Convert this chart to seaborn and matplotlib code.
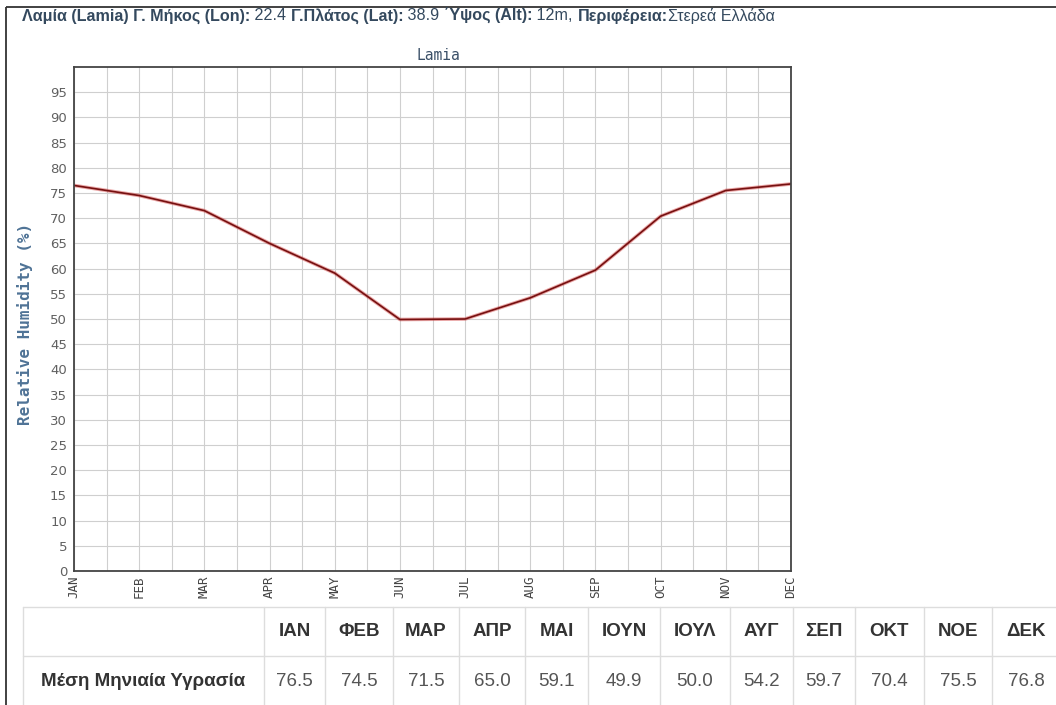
import numpy as np
import pandas as pd
import matplotlib
matplotlib.use('Agg')
import matplotlib.pyplot as plt
from matplotlib import font_manager
import seaborn as sns

# ── Data ─────────────────────────────────────────────────────
months     = ['JAN', 'FEB', 'MAR', 'APR', 'MAY', 'JUN', 'JUL', 'AUG', 'SEP', 'OCT', 'NOV', 'DEC']
months_gr  = ['ΙΑΝ', 'ΦΕΒ', 'ΜΑΡ', 'ΑΠΡ', 'ΜΑΙ', 'ΙΟΥΝ', 'ΙΟΥΛ', 'ΑΥΓ', 'ΣΕΠ', 'ΟΚΤ', 'ΝΟΕ', 'ΔΕΚ']
humidity   = [76.5, 74.5, 71.5, 65.0, 59.1, 49.9, 50.0, 54.2, 59.7, 70.4, 75.5, 76.8]
row_label  = 'Μέση Μηνιαία Υγρασία'
station    = 'Lamia'
header_parts = [('Λαμία (Lamia) Γ. Μήκος (Lon):', 'bold'), (' 22.4 ', 'normal'),
                ('Γ.Πλάτος (Lat):', 'bold'), (' 38.9 ', 'normal'),
                ('΄Υψος (Alt):', 'bold'), (' 12m, ', 'normal'),
                ('Περιφέρεια:', 'bold'), ('Στερεά Ελλάδα', 'normal')]

df = pd.DataFrame({'m': np.arange(len(months)), 'rh': humidity})

# ── Style ────────────────────────────────────────────────────
sns.set_style('white')
installed = {f.name for f in font_manager.fontManager.ttflist}
NARROW = ['Liberation Sans Narrow'] if 'Liberation Sans Narrow' in installed else ['Liberation Sans']
NARROW = NARROW + ['DejaVu Sans']
plt.rcParams['font.family'] = ['DejaVu Sans']

W, H = 1056, 705
fig = plt.figure(figsize=(W / 100, H / 100), dpi=100, facecolor='white')

# overlay in pixel coordinates for page furniture (border, header, table)
ov = fig.add_axes([0, 0, 1, 1], zorder=0)
ov.set_xlim(0, W); ov.set_ylim(H, 0); ov.axis('off')

# chart axes
L, R, T, B = 74, 791, 67, 571
ax = fig.add_axes([L / W, (H - B) / H, (R - L) / W, (B - T) / H], zorder=2)
ax.set_facecolor('white')

sns.lineplot(data=df, x='m', y='rh', ax=ax, color='#d23c3c', lw=2.6, alpha=0.45)
sns.lineplot(data=df, x='m', y='rh', ax=ax, color='#761010', lw=1.2)

ax.set_xlim(0, 11); ax.set_ylim(0, 100)
ax.set_xticks(np.arange(12))
ax.set_xticks(np.arange(0, 11, 0.5), minor=True)
ax.set_xticklabels(months, rotation=90, fontsize=9, color='#444444', family='DejaVu Sans Mono')
ax.set_yticks(np.arange(0, 100, 5))
ax.set_yticks([], minor=True)
ax.tick_params(axis='y', length=0, pad=5, labelsize=9.5, labelcolor='#606060')
ax.tick_params(axis='x', which='both', length=0, pad=3)
ax.grid(which='both', color='#cfcfcf', lw=0.8)
ax.set_axisbelow(True)
for s in ax.spines.values():
    s.set_color('#444444'); s.set_linewidth(1.3)
ax.set_xlabel('')
ax.set_ylabel('Relative Humidity (%)', family='DejaVu Sans Mono', fontweight='bold',
              fontsize=11.5, color='#4f7396')
ax.yaxis.set_label_coords(-0.057, 0.49)
ax.set_title(station, family='DejaVu Sans Mono', fontsize=10.5, color='#3b5068', pad=5, x=0.508)

# ── Page border ──────────────────────────────────────────────
ov.plot([6, 6], [7, H], color='#333333', lw=1.3, solid_capstyle='butt')
ov.plot([6, W], [7, 7], color='#333333', lw=1.3, solid_capstyle='butt')

# ── Header line (bold labels, normal values) ─────────────────
fig.canvas.draw()
rend = fig.canvas.get_renderer()
x = 22
for txt, wt in header_parts:
    t = ov.text(x, 16, txt, ha='left', va='center', fontsize=11.6, fontweight=wt,
                color='#34495e', family=NARROW)
    bb = t.get_window_extent(renderer=rend)
    x += bb.width

# ── Table ────────────────────────────────────────────────────
seps = [23, 264, 325, 393, 459, 525, 588, 660, 730, 793, 855, 924, 992, 1060]
row_top, row_mid, row_bot = 607, 656, 710
gc = '#dddddd'
ov.plot([seps[0], W], [row_top, row_top], color=gc, lw=1)
ov.plot([seps[0], W], [row_mid, row_mid], color=gc, lw=1)
for sx in seps:
    ov.plot([sx, sx], [row_top, row_bot], color=gc, lw=1)

centers = [(a + b) / 2 for a, b in zip(seps[1:-1], seps[2:])]
for cx, mg, v in zip(centers, months_gr, humidity):
    ov.text(cx, 631, mg, ha='center', va='center', fontsize=13.5, fontweight='bold',
            color='#333333', family=NARROW)
    ov.text(cx, 682, f'{v:.1f}', ha='center', va='center', fontsize=13.5,
            color='#555555', family=NARROW)
ov.text((seps[0] + seps[1]) / 2, 682, row_label, ha='center', va='center', fontsize=13.5,
        fontweight='bold', color='#333333', family=NARROW)

fig.savefig('out.png', dpi=100, facecolor='white')
